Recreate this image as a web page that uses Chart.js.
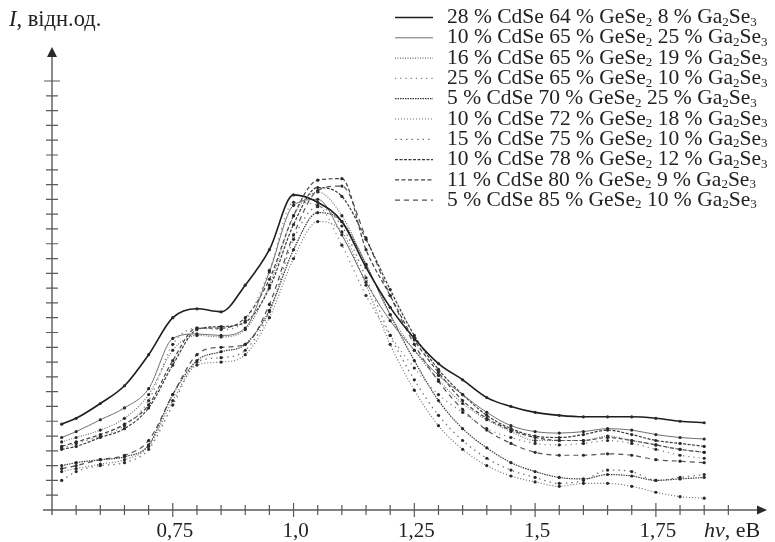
<!DOCTYPE html>
<html lang="uk">
<head>
  <meta charset="UTF-8">
  <title>Спектри люмінесценції стекол CdSe–GeSe2–Ga2Se3</title>

  <!-- Chart.js for rendering graphs -->
  <script src="https://cdn.jsdelivr.net/npm/chart.js"></script>

  <style>
    html, body {
      margin: 0;
      padding: 0;
      background: #fff;
    }

    #wrap {
      width: 775px;
      height: 542px;
    }
  </style>
</head>

<body>
  <div id="wrap"><canvas id="spectra" width="775" height="542"></canvas></div>

  <script>
    // Photon energy, eV
    const energy = [0.52, 0.55, 0.6, 0.65, 0.7, 0.75, 0.8, 0.85, 0.9, 0.95, 1.0, 1.05, 1.1, 1.15,
      1.2, 1.25, 1.3, 1.35, 1.4, 1.45, 1.5, 1.55, 1.6, 1.65, 1.7, 1.75, 1.8, 1.85];

    // Intensity, rel. units (one array per glass composition)
    const cd28_ge64_ga8 = [5.8, 6.2, 7.2, 8.4, 10.5, 13.0, 13.6, 13.4, 15.2, 17.6, 21.3, 20.8, 19.5, 16.4,
      13.7, 11.6, 9.9, 8.8, 7.6, 7.0, 6.6, 6.4, 6.3, 6.3, 6.3, 6.2, 6.0, 5.9];
    const cd10_ge65_ga25 = [4.9, 5.3, 6.1, 6.9, 8.2, 11.6, 11.9, 11.8, 12.3, 16.1, 20.6, 21.0, 18.6, 15.4,
      12.8, 10.8, 9.1, 7.8, 6.6, 5.7, 5.3, 5.2, 5.3, 5.5, 5.4, 5.1, 4.9, 4.8];
    const cd16_ge65_ga19 = [4.6, 4.9, 5.4, 6.2, 7.8, 10.8, 11.8, 11.7, 12.2, 15.2, 19.9, 21.5, 19.9, 16.6,
      13.2, 10.8, 8.8, 7.2, 6.1, 5.3, 4.7, 4.7, 4.7, 5.0, 4.7, 4.4, 4.1, 3.9];
    const cd25_ge65_ga10 = [4.2, 4.5, 5.0, 5.7, 7.4, 11.2, 12.3, 12.2, 12.8, 16.2, 20.8, 20.6, 17.9, 14.5,
      11.8, 9.6, 7.8, 6.6, 5.5, 4.9, 4.5, 4.4, 4.5, 4.7, 4.5, 4.1, 3.7, 3.5];
    const cd5_ge70_ga25 = [3.0, 3.2, 3.4, 3.6, 4.4, 7.8, 10.1, 10.7, 11.2, 13.5, 17.6, 20.1, 19.5, 16.6,
      13.2, 10.1, 7.4, 5.5, 4.2, 3.2, 2.6, 2.2, 2.1, 2.4, 2.3, 2.0, 2.1, 2.2];
    const cd10_ge72_ga18 = [2.6, 2.8, 3.1, 3.4, 4.3, 7.4, 9.8, 10.0, 10.5, 13.0, 17.0, 19.5, 18.8, 15.2,
      11.2, 8.1, 5.7, 4.1, 3.0, 2.3, 1.9, 1.6, 1.8, 1.8, 1.6, 1.2, 0.9, 0.8];
    const cd15_ge75_ga10 = [2.0, 2.6, 3.0, 3.2, 4.1, 7.1, 10.0, 10.3, 10.8, 13.4, 18.3, 20.5, 19.2, 15.7,
      11.8, 8.8, 6.4, 4.7, 3.5, 2.7, 2.2, 1.8, 2.0, 2.7, 2.6, 2.0, 2.2, 2.4];
    const cd10_ge78_ga12 = [4.1, 4.3, 4.9, 5.5, 6.9, 9.8, 12.2, 12.4, 12.7, 15.0, 19.3, 21.8, 21.2, 18.3,
      14.9, 11.8, 9.5, 7.8, 6.4, 5.5, 5.0, 4.9, 5.1, 5.4, 5.1, 4.7, 4.5, 4.3];
    const cd11_ge80_ga9 = [4.3, 4.6, 5.1, 5.8, 7.1, 10.1, 12.3, 12.3, 13.0, 15.6, 19.9, 22.3, 22.4, 17.6,
      14.5, 11.5, 9.3, 7.4, 6.2, 5.4, 4.9, 4.7, 4.7, 4.9, 4.7, 4.4, 4.1, 3.9];
    const cd5_ge85_ga10 = [2.8, 3.0, 3.4, 3.7, 4.7, 7.8, 10.5, 11.0, 11.2, 13.9, 18.6, 21.6, 21.9, 18.4,
      14.5, 11.2, 8.7, 6.8, 5.4, 4.5, 3.9, 3.7, 3.7, 3.8, 3.7, 3.4, 3.3, 3.2];

    // Legend captions; "_n" marks a subscript digit
    const legendLabels = [
      '28 % CdSe 64 % GeSe_2 8 % Ga_2Se_3',
      '10 % CdSe 65 % GeSe_2 25 % Ga_2Se_3',
      '16 % CdSe 65 % GeSe_2 19 % Ga_2Se_3',
      '25 % CdSe 65 % GeSe_2 10 % Ga_2Se_3',
      '5 % CdSe 70 % GeSe_2 25 % Ga_2Se_3',
      '10 % CdSe 72 % GeSe_2 18 % Ga_2Se_3',
      '15 % CdSe 75 % GeSe_2 10 % Ga_2Se_3',
      '10 % CdSe 78 % GeSe_2 12 % Ga_2Se_3',
      '11 % CdSe 80 % GeSe_2 9 % Ga_2Se_3',
      '5 % CdSe 85 % GeSe_2 10 % Ga_2Se_3'
    ];

    // Labelled ticks on the energy axis
    const xMajorTicks = [0.75, 1.0, 1.25, 1.5, 1.75];
    const xTickLabels = ['0,75', '1,0', '1,25', '1,5', '1,75'];

    const seriesList = [cd28_ge64_ga8, cd10_ge65_ga25, cd16_ge65_ga19, cd25_ge65_ga10, cd5_ge70_ga25,
      cd10_ge72_ga18, cd15_ge75_ga10, cd10_ge78_ga12, cd11_ge80_ga9, cd5_ge85_ga10];

    // line colour, width and dash for each composition
    const lineStyles = [
      { color: '#1e1e1e', width: 1.6, dash: [] },
      { color: '#6e6e6e', width: 1.0, dash: [] },
      { color: '#6a6a6a', width: 1.1, dash: [1, 1.5] },
      { color: '#7a7a7a', width: 1.2, dash: [1.2, 4] },
      { color: '#3a3a3a', width: 1.2, dash: [1.5, 1] },
      { color: '#666666', width: 1.1, dash: [1, 2] },
      { color: '#777777', width: 1.3, dash: [1.5, 4] },
      { color: '#3a3a3a', width: 1.2, dash: [3, 1.5] },
      { color: '#444444', width: 1.2, dash: [4, 2.5] },
      { color: '#555555', width: 1.2, dash: [5, 4] }
    ];

    const SERIF = '"Liberation Serif", "DejaVu Serif", serif';

    // text with "_n" subscripts, drawn left to right from x
    function drawRich(ctx, str, x, y, size) {
      const parts = str.split(/(_\d)/);
      for (const p of parts) {
        if (!p) continue;
        if (p[0] === '_') {
          ctx.font = `${Math.round(size * 0.6)}px ${SERIF}`;
          ctx.fillText(p[1], x, y + size * 0.22);
          x += ctx.measureText(p[1]).width;
        } else {
          ctx.font = `${size}px ${SERIF}`;
          ctx.fillText(p, x, y);
          x += ctx.measureText(p).width;
        }
      }
      return x;
    }

    // axes with arrows and crossing ticks, axis captions and legend
    const axesPlugin = {
      id: 'arrowAxes',
      afterDraw(chart) {
        const { ctx, scales: { x, y } } = chart;
        const x0 = x.getPixelForValue(0.5);
        const y0 = y.getPixelForValue(0);
        const xEnd = x.getPixelForValue(x.max);
        const yEnd = y.getPixelForValue(y.max);

        ctx.save();
        ctx.strokeStyle = '#5a5a5a';
        ctx.fillStyle = '#2a2a2a';
        ctx.lineWidth = 1.4;

        ctx.beginPath();
        ctx.moveTo(x0 - 9, y0);
        ctx.lineTo(xEnd - 8, y0);
        ctx.moveTo(x0, y0 + 5);
        ctx.lineTo(x0, yEnd + 8);
        ctx.stroke();

        // arrow heads
        ctx.beginPath();
        ctx.moveTo(xEnd, y0);
        ctx.lineTo(xEnd - 10, y0 - 4.5);
        ctx.lineTo(xEnd - 10, y0 + 4.5);
        ctx.closePath();
        ctx.fill();
        ctx.beginPath();
        ctx.moveTo(x0, yEnd);
        ctx.lineTo(x0 - 5, yEnd + 10);
        ctx.lineTo(x0 + 5, yEnd + 10);
        ctx.closePath();
        ctx.fill();

        // energy ticks every 0.05 eV
        ctx.lineWidth = 1.2;
        ctx.beginPath();
        for (let i = 1; i <= 28; i++) {
          const e = 0.5 + i * 0.05;
          const px = x.getPixelForValue(e);
          const major = i % 5 === 0;
          ctx.moveTo(px, y0 - (major ? 7 : 5));
          ctx.lineTo(px, y0 + (major ? 7 : 5));
        }
        // intensity ticks
        for (let v = 1; v <= 29; v++) {
          const py = y.getPixelForValue(v);
          const half = v === 29 ? 8 : 6;
          ctx.moveTo(x0 - half, py);
          ctx.lineTo(x0 + half, py);
        }
        ctx.stroke();

        // tick labels
        ctx.fillStyle = '#222';
        ctx.font = `21px ${SERIF}`;
        ctx.textAlign = 'center';
        ctx.textBaseline = 'alphabetic';
        xMajorTicks.forEach((t, i) => {
          ctx.fillText(xTickLabels[i], x.getPixelForValue(t) + 2, 537);
        });

        // axis captions
        ctx.textAlign = 'left';
        ctx.font = `italic 22px ${SERIF}`;
        ctx.fillText('hν', 704, 537);
        let w = ctx.measureText('hν').width;
        ctx.font = `22px ${SERIF}`;
        ctx.fillText(', eB', 704 + w, 537);

        ctx.font = `italic 22.5px ${SERIF}`;
        ctx.fillText('I', 9, 26);
        w = ctx.measureText('I').width;
        ctx.font = `22.5px ${SERIF}`;
        ctx.fillText(', відн.од.', 9 + w, 26);

        // legend
        chart.data.datasets.forEach((ds, i) => {
          const ly = 17.5 + i * 20.3;
          ctx.strokeStyle = ds.borderColor;
          ctx.lineWidth = ds.borderWidth;
          ctx.setLineDash(ds.borderDash);
          ctx.beginPath();
          ctx.moveTo(395, ly);
          ctx.lineTo(433, ly);
          ctx.stroke();
          ctx.setLineDash([]);
          ctx.fillStyle = '#222';
          ctx.textBaseline = 'middle';
          drawRich(ctx, legendLabels[i], 447, ly, 21.5);
        });
        ctx.restore();
      }
    };

    const datasets = seriesList.map((vals, i) => ({
      label: legendLabels[i],
      data: energy.map((e, k) => ({ x: e, y: vals[k] })),
      borderColor: lineStyles[i].color,
      borderWidth: lineStyles[i].width,
      borderDash: lineStyles[i].dash,
      pointRadius: 1.6,
      pointBorderWidth: 0,
      pointBackgroundColor: '#2a2a2a',
      cubicInterpolationMode: 'monotone',
      fill: false
    }));

    new Chart(document.getElementById('spectra').getContext('2d'), {
      type: 'line',
      data: { datasets },
      options: {
        responsive: false,
        animation: false,
        layout: { padding: { left: 52, right: 8, top: 47, bottom: 32 } },
        scales: {
          x: { type: 'linear', min: 0.5, max: 1.98, display: false },
          y: { min: 0, max: 31.3, display: false }
        },
        plugins: {
          legend: { display: false },
          tooltip: { enabled: false }
        }
      },
      plugins: [axesPlugin]
    });
  </script>
</body>

</html>
